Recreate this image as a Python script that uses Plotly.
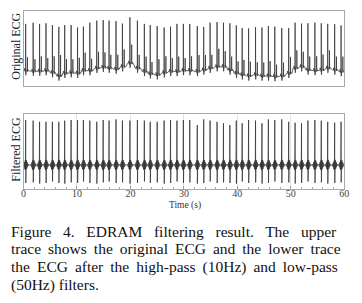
import plotly.graph_objects as go

# ---- data ----
beat_t = [0.4, 1.8, 3.0, 4.2, 5.4, 6.6, 7.7, 8.9, 10.1, 11.2,
          12.4, 13.7, 14.9, 16.0, 17.3, 18.5, 19.9, 21.3, 22.6, 23.7,
          25.0, 26.3, 27.5, 28.7, 29.9, 31.1, 32.5, 33.7, 34.9, 36.2,
          37.4, 38.6, 39.8, 40.9, 42.1, 43.4, 44.6, 45.8, 47.0, 48.3,
          49.6, 50.8, 52.0, 53.2, 54.5, 55.7, 56.9, 58.2, 59.4]

# original ECG: R amplitude above baseline, baseline wander, secondary wave
orig_r = [1.56, 1.62, 1.58, 1.58, 1.59, 1.64, 1.61, 1.59, 1.53, 1.47,
          1.60, 1.59, 1.58, 1.59, 1.60, 1.44, 1.53, 1.59, 1.59, 1.63,
          1.63, 1.51, 1.50, 1.59, 1.56, 1.56, 1.52, 1.44, 1.52, 1.49,
          1.47, 1.56, 1.60, 1.56, 1.59, 1.59, 1.62, 1.67, 1.67, 1.60,
          1.51, 1.52, 1.44, 1.56, 1.60, 1.56, 1.48, 1.53, 1.54]
orig_base = [0.01, -0.01, -0.01, 0.01, -0.06, -0.17, -0.08, -0.06, -0.08, 0.01,
             0.01, 0.09, 0.12, 0.09, 0.06, 0.14, 0.26, 0.09, -0.02, -0.10,
             -0.13, -0.06, -0.02, -0.02, 0.01, 0.01, -0.02, 0.03, 0.09, 0.14,
             0.14, 0.03, -0.08, -0.13, -0.17, -0.13, -0.17, -0.17, -0.19, -0.17,
             -0.08, 0.09, 0.14, 0.03, 0.01, 0.03, 0.09, 0.03, -0.02]
orig_t = [0.45, 0.40, 0.50, 0.42, 0.55, 0.70, 0.48, 0.45, 0.52, 0.60,
          0.40, 0.55, 0.50, 0.45, 0.48, 0.58, 0.62, 0.45, 0.50, 0.40,
          0.52, 0.55, 0.45, 0.50, 0.42, 0.48, 0.55, 0.50, 0.45, 0.60,
          0.52, 0.45, 0.40, 0.50, 0.48, 0.42, 0.45, 0.50, 0.40, 0.45,
          0.55, 0.60, 0.50, 0.45, 0.48, 0.52, 0.60, 0.45, 0.50]

# filtered ECG: R peak and S depth
filt_r = [1.50, 1.48, 1.44, 1.44, 1.44, 1.44, 1.48, 1.50, 1.50, 1.50,
          1.48, 1.44, 1.50, 1.48, 1.52, 1.48, 1.48, 1.50, 1.48, 1.44,
          1.44, 1.48, 1.50, 1.48, 1.50, 1.50, 1.33, 1.52, 1.48, 1.44,
          1.39, 1.33, 1.48, 1.39, 1.50, 1.48, 1.39, 1.52, 1.50, 1.52,
          1.44, 1.41, 1.39, 1.48, 1.50, 1.48, 1.44, 1.41, 1.44]
filt_s = [0.60, 0.58, 0.62, 0.60, 0.55, 0.60, 0.62, 0.58, 0.60, 0.55,
          0.60, 0.62, 0.58, 0.55, 0.60, 0.58, 0.62, 0.60, 0.55, 0.60,
          0.58, 0.62, 0.60, 0.55, 0.60, 0.58, 0.62, 0.60, 0.55, 0.60,
          0.58, 0.60, 0.62, 0.55, 0.60, 0.58, 0.62, 0.60, 0.55, 0.60,
          0.58, 0.62, 0.60, 0.55, 0.60, 0.58, 0.62, 0.60, 0.58]

# per-beat waveform templates (offset from R in s)
ecg_off = [-0.40, -0.25, -0.20, -0.15, -0.05, -0.025, 0.0, 0.025, 0.05, 0.12,
           0.28, 0.31, 0.33, 0.35, 0.40, 0.50, 0.60]
ecg_fix = [0.0, 0.0, 0.08, 0.0, 0.0, -0.05, 0.0, -0.15, 0.0, 0.03,
           0.05, 0.05, 0.0, -0.03, 0.04, 0.0, 0.0]
ecg_wr = [0, 0, 0, 0, 0, 0, 1, 0, 0, 0, 0, 0, 0, 0, 0, 0, 0]
ecg_wt = [0, 0, 0, 0, 0, 0, 0, 0, 0, 0, 0, 0, 1, 0, 0, 0, 0]

flt_off = [-0.45, -0.40, -0.36, -0.32, -0.28, -0.24, -0.20, -0.16, -0.12, -0.08,
           -0.05, -0.02, 0.0, 0.02, 0.045, 0.07, 0.10, 0.13, 0.16, 0.19,
           0.22, 0.26, 0.30, 0.34, 0.38, 0.42, 0.47, 0.52, 0.58]
flt_fix = [0.0, 0.03, -0.04, 0.06, -0.07, 0.09, -0.10, 0.12, -0.14, 0.15,
           -0.17, 0.10, 0.0, 0.0, 0.13, -0.19, 0.17, -0.16, 0.14, -0.13,
           0.11, -0.10, 0.08, -0.07, 0.05, -0.04, 0.03, -0.02, 0.0]
flt_wr = [0] * 12 + [1] + [0] * 16
flt_ws = [0] * 13 + [1] + [0] * 15

x_ticks = [0, 10, 20, 30, 40, 50, 60]

caption = [
    "Figure\u00a0\u00a0 4.\u00a0\u00a0 EDRAM\u00a0\u00a0 filtering\u00a0\u00a0 result.\u00a0\u00a0 The\u00a0\u00a0 upper",
    "trace\u2009 shows\u2009 the\u2009 original\u2009 ECG\u2009 and\u2009 the\u2009 lower\u2009 trace",
    "the\u2009 ECG\u2009 after\u2009 the\u2009 high-pass\u2009 (10Hz)\u2009 and\u2009 low-pass",
    "(50Hz) filters.",
]

# ---- build traces ----
ox, oy = [], []
for i, t0 in enumerate(beat_t):
    for j, d in enumerate(ecg_off):
        ox.append(t0 + d)
        oy.append(orig_base[i] + ecg_fix[j] + orig_r[i] * ecg_wr[j] + orig_t[i] * ecg_wt[j])

fx, fy = [], []
for i, t0 in enumerate(beat_t):
    for j, d in enumerate(flt_off):
        fx.append(t0 + d)
        fy.append(flt_fix[j] + filt_r[i] * flt_wr[j] - filt_s[i] * flt_ws[j])

W, H = 362, 303
fig = go.Figure()
fig.add_trace(go.Scatter(x=ox, y=oy, mode="lines", line=dict(color="#333333", width=0.75),
                         xaxis="x", yaxis="y", showlegend=False, hoverinfo="skip"))
fig.add_trace(go.Scatter(x=fx, y=fy, mode="lines", line=dict(color="#333333", width=0.75),
                         xaxis="x2", yaxis="y2", showlegend=False, hoverinfo="skip"))

xdom = [21 / W, 349 / W]
serif = "Liberation Serif"
axcol = "#a8a8a8"
fig.update_layout(
    width=W, height=H, autosize=False,
    margin=dict(l=0, r=0, t=0, b=0),
    paper_bgcolor="white", plot_bgcolor="white",
    font=dict(family=serif, color="#222"),
    xaxis=dict(domain=xdom, range=[0, 60], anchor="y", showticklabels=False,
               showline=True, mirror=True, linecolor=axcol, linewidth=1,
               showgrid=False, zeroline=False, ticks=""),
    yaxis=dict(domain=[1 - 86 / H, 1 - 11 / H], range=[-0.5, 2.0], anchor="x",
               showticklabels=False, showline=True, mirror=True, linecolor=axcol,
               linewidth=1, showgrid=False, zeroline=False, ticks=""),
    xaxis2=dict(domain=xdom, range=[0, 60], anchor="y2", tickvals=x_ticks,
                ticktext=[str(v) for v in x_ticks],
                tickfont=dict(family=serif, size=10, color="#444"),
                ticklabelstandoff=-5,
                showline=True, mirror=True, linecolor=axcol, linewidth=1,
                showgrid=True, gridcolor="#e2e2e2", gridwidth=1, zeroline=False,
                ticks="inside", ticklen=3, tickcolor="#999",
                minor=dict(dtick=2, ticks="inside", ticklen=2, tickcolor="#aaa", showgrid=False)),
    yaxis2=dict(domain=[1 - 189 / H, 1 - 114 / H], range=[-0.8, 1.7], anchor="x2",
                showticklabels=False, showline=True, mirror=True, linecolor=axcol,
                linewidth=1, showgrid=False, zeroline=False, ticks=""),
)

ann = [
    dict(text="Original ECG", x=13 / W, y=1 - 46 / H, textangle=-90,
         font=dict(family=serif, size=12, color="#222")),
    dict(text="Filtered ECG", x=13 / W, y=1 - 149 / H, textangle=-90,
         font=dict(family=serif, size=12, color="#222")),
    dict(text="Time (s)", x=186 / W, y=1 - 205 / H,
         font=dict(family=serif, size=9.5, color="#333")),
]
for a in ann:
    a.update(xref="paper", yref="paper", showarrow=False, xanchor="center", yanchor="middle")
    fig.add_annotation(**a)

cap_y = [231, 249, 267, 285]
for line, yy in zip(caption, cap_y):
    fig.add_annotation(text=line, x=6 / W, y=1 - yy / H, xref="paper", yref="paper",
                       xanchor="left", yanchor="middle", showarrow=False,
                       font=dict(family=serif, size=15.5, color="#111"))

fig.write_html("out.html", config={"displayModeBar": False},
               post_script="document.body.style.margin='0';document.body.style.overflow='hidden';")
